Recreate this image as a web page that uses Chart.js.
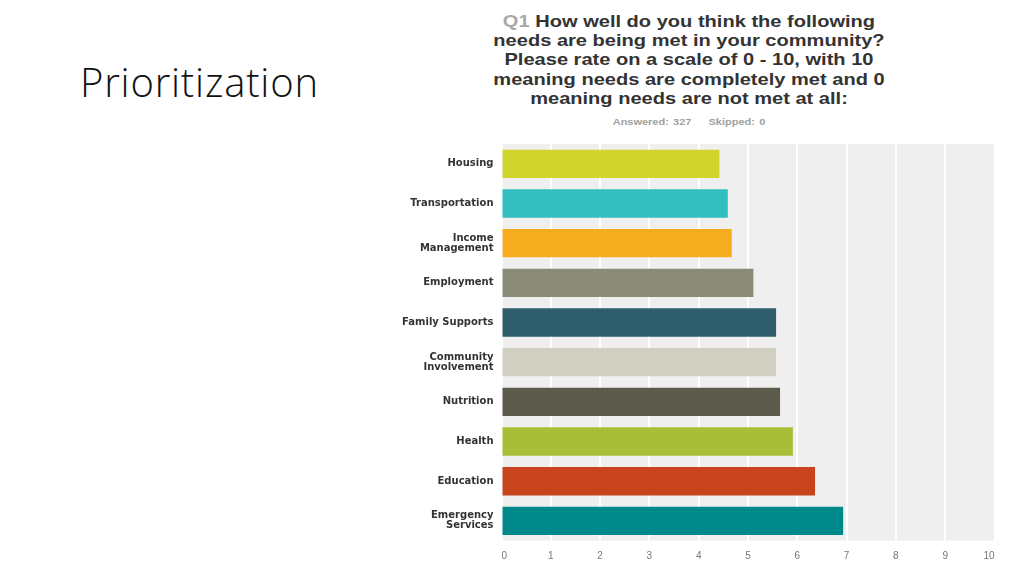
<!DOCTYPE html>
<html>
<head>
<meta charset="utf-8">
<script src="https://cdn.jsdelivr.net/npm/chart.js@4.4.1/dist/chart.umd.min.js"></script>
<style>
  html, body { margin: 0; padding: 0; background: #fff; width: 1024px; height: 576px; overflow: hidden; }
  #heading {
    position: absolute; left: 80px; top: 57px;
    font-family: "Open Sans", sans-serif; font-weight: 300; font-size: 40px;
    line-height: 50px; color: #111; letter-spacing: 0.8px;
  }
  #question {
    position: absolute; left: 439px; width: 500px; top: 12px;
    font-family: "Liberation Sans", Arial, sans-serif; font-weight: bold; font-size: 17px;
    line-height: 19.2px; color: #333; text-align: center;
    transform: scaleX(1.18); transform-origin: 250px 0;
  }
  #question .q { color: #a8a8a8; }
  #answered {
    position: absolute; left: 539px; width: 300px; top: 117px;
    font-family: "Liberation Sans", Arial, sans-serif; font-weight: bold; font-size: 9px;
    color: #a0a0a0; text-align: center; word-spacing: 1px;
    transform: scaleX(1.22); transform-origin: 150px 0;
  }
  #chart { position: absolute; left: 390px; top: 140px; }
</style>
</head>
<body>
<div id="heading">Prioritization</div>
<div id="question"><span class="q">Q1</span> How well do you think the following<br>needs are being met in your community?<br>Please rate on a scale of 0 - 10, with 10<br>meaning needs are completely met and 0<br>meaning needs are not met at all:</div>
<div id="answered">Answered: 327&nbsp;&nbsp;&nbsp;&nbsp;Skipped: 0</div>
<canvas id="chart" width="620" height="436"></canvas>
<script>
// survey needs, average rating 0-10
const needs = [
  'Housing', 'Transportation', ['Income', 'Management'], 'Employment', 'Family Supports',
  ['Community', 'Involvement'], 'Nutrition', 'Health', 'Education', ['Emergency', 'Services']
];
const ratings = [4.42, 4.59, 4.67, 5.11, 5.57, 5.57, 5.65, 5.91, 6.36, 6.93];
const barColors = [
  '#d0d52d', '#33bfbf', '#f5ad1f', '#8a8b78', '#2e5e6b',
  '#d0cfc1', '#5c5b4b', '#a8be39', '#c8441c', '#00898a'
];
const xTicks = [0, 1, 2, 3, 4, 5, 6, 7, 8, 9, 10];

const plotBg = {
  id: 'plotBg',
  beforeDraw(chart) {
    const { ctx, chartArea: a } = chart;
    ctx.save();
    ctx.fillStyle = '#efefef';
    ctx.fillRect(a.left, a.top, a.right - a.left, a.bottom - a.top);
    ctx.restore();
  }
};

new Chart(document.getElementById('chart').getContext('2d'), {
  type: 'bar',
  data: {
    labels: needs,
    datasets: [{
      data: ratings,
      backgroundColor: barColors,
      borderWidth: 0,
      barPercentage: 0.715,
      categoryPercentage: 1.0
    }]
  },
  options: {
    indexAxis: 'y',
    responsive: false,
    animation: false,
    layout: { padding: { top: 4, right: 15.5, left: 0, bottom: 0 } },
    plugins: { legend: { display: false }, tooltip: { enabled: false } },
    scales: {
      x: {
        min: 0, max: 10,
        afterFit(scale) { scale.height = 35.3; scale.paddingLeft = 0; scale.paddingRight = 0; },
        afterBuildTicks(scale) { scale.ticks = xTicks.map(v => ({ value: v })); },
        grid: { color: '#ffffff', lineWidth: 2, drawTicks: false },
        border: { display: false },
        ticks: {
          padding: 10,
          align: 'inner',
          color: '#777',
          font: { family: 'Liberation Sans', size: 10 }
        }
      },
      y: {
        afterFit(scale) { scale.width = 111.5; scale.paddingTop = 0; scale.paddingBottom = 0; },
        grid: { display: false, drawTicks: false },
        border: { display: false },
        ticks: {
          padding: 8,
          color: '#333',
          font: { family: 'DejaVu Sans', size: 10, weight: 'bold', lineHeight: 1.0 }
        }
      }
    }
  },
  plugins: [plotBg]
});
</script>
</body>
</html>
